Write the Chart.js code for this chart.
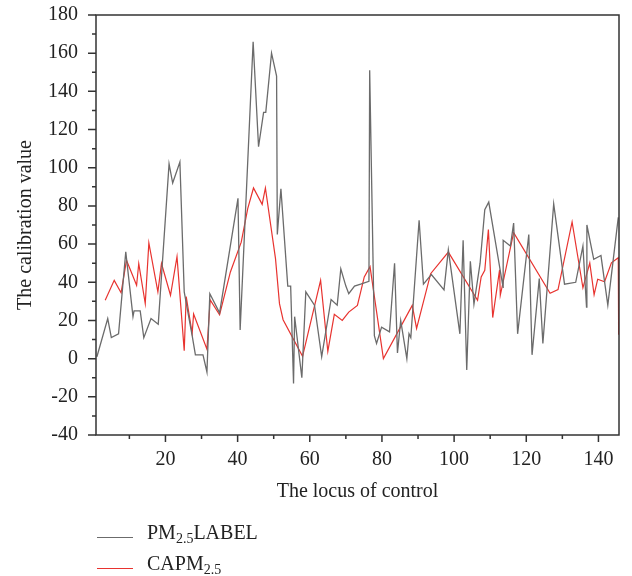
<!DOCTYPE html>
<html>
<head>
<meta charset="utf-8">
<script src="https://cdn.jsdelivr.net/npm/chart.js@4.4.0/dist/chart.umd.min.js"></script>
<style>
  body { margin: 0; background: #fff; }
  #wrap { position: relative; width: 632px; height: 576px; }
  #legend { position: absolute; left: 97px; top: 520px; font-family: "Liberation Serif", serif; font-size: 20px; color: #222; }
  #legend .row { position: relative; height: 31px; }
  #legend .swatch { position: absolute; left: 0; top: 17px; width: 36px; height: 0; border-top: 1.3px solid; }
  #legend .txt { position: absolute; left: 50px; top: 1px; white-space: nowrap; }
  #legend sub { font-size: 14px; vertical-align: -4px; line-height: 0; }
</style>
</head>
<body>
<div id="wrap">
  <canvas id="c" width="632" height="576"></canvas>
  <div id="legend">
    <div class="row"><span class="swatch" style="border-color:#6b6b6b"></span><span class="txt">PM<sub>2.5</sub>LABEL</span></div>
    <div class="row"><span class="swatch" style="border-color:#e8332f"></span><span class="txt">CAPM<sub>2.5</sub></span></div>
  </div>
</div>
<script>
// PM2.5 LABEL series (gray)
var labelX = [1, 4, 5, 7, 9, 11, 11.3, 13, 14, 16, 18, 21, 22, 24, 25.2, 27.4, 28.3, 30.4, 31.5, 32.3,
  35, 40.1, 40.7, 44.3, 45.8, 47.2, 47.8, 49.4, 50.8, 51, 52, 53.9, 54.7, 55.5, 55.8, 57.8, 58.9, 61.3, 63.3, 65.9,
  67.6, 68.6, 70, 70.8, 72.4, 74.1, 76.4, 76.6, 77.9, 78.5, 79.9, 82.1, 83.5, 84.3, 85.2, 86.9, 87.5, 88, 90.3, 91.5,
  93.7, 97.2, 98.4, 101.6, 102.5, 103.5, 104.5, 105.5, 107.2, 108.5, 109.6, 113.6, 113.6, 115.6, 116.5, 117.6, 120.7, 121.6, 123.6, 124.6,
  127.6, 130.6, 133.7, 135.7, 136.7, 136.8, 138.7, 140.7, 142.6, 145.5];
var labelY = [1, 21, 11, 13, 56, 22, 25, 25, 11, 21, 18, 102, 92, 103, 35, 12, 2, 2, -7, 34,
  24, 84, 15, 166, 111, 129, 129, 160, 148, 65, 89, 38, 38, -13, 22, -10, 35, 28, 1, 31,
  28, 47, 38, 34, 38, 39, 40.5, 151, 12, 8, 16.5, 14, 50, 3, 20, 0, 13, 11, 72.5, 39,
  44, 36, 57, 13, 62, -6, 51, 28.5, 50, 78, 82, 37, 62, 59, 71, 13, 65, 2, 42, 8,
  81, 39, 40, 59, 27, 70, 52, 54, 28, 74];

// CAPM2.5 series (red)
var capX = [3.3, 5.8, 7.7, 9.2, 12, 12.6, 14.4, 15.4, 17.9, 18.9, 21.4, 23.2, 25.2, 25.75, 27.4, 27.8, 31.5, 32.4, 35, 38,
  41, 42.8, 44.4, 46.8, 47.7, 50.5, 51.6, 52.6, 58, 63, 65, 66.8, 69, 70.8, 73.2, 75.1, 76.7, 80.4, 88.4, 89.6,
  93.5, 98.4, 106.5, 107.5, 108.5, 109.5, 110.7, 112.6, 112.8, 116.5, 126.6, 128.8, 132.7, 135.7, 137.6, 138.8, 139.8, 141.7, 143.6, 145.5,
  145.6];
var capY = [30.6, 41, 34.5, 51.5, 38.4, 49.8, 28.8, 60.6, 35, 49.8, 33.2, 53.4, 4.2, 32.5, 13.1, 23.4, 5, 30.8, 23, 45.4,
  61, 78.6, 89.4, 80.8, 89.4, 52.4, 28.8, 20.4, 1.2, 41, 3.8, 23.2, 20, 24.4, 27.9, 42.8, 48.2, 0, 27.9, 15.8,
  44.5, 55.8, 30.6, 42.8, 46.3, 67.6, 21.5, 46.5, 33.2, 66, 34.2, 36.2, 71.6, 37.1, 50.1, 33.5, 41.6, 40.3, 50.2, 52.9,
  12.5];

var xTicks = [20, 40, 60, 80, 100, 120, 140];
var xMinor = [10, 30, 50, 70, 90, 110, 130];
var yTicks = [-40, -20, 0, 20, 40, 60, 80, 100, 120, 140, 160, 180];
var yMinor = [-30, -10, 10, 30, 50, 70, 90, 110, 130, 150, 170];

function pairs(xs, ys) {
  return xs.map(function(x, i) { return { x: x, y: ys[i] }; });
}

var serif = '"Liberation Serif", "DejaVu Serif", serif';

// frame round the plot and outward tick marks
var framePlugin = {
  id: 'frame',
  afterDatasetsDraw: function(chart) {
    var ctx = chart.ctx, a = chart.chartArea;
    var xs = chart.scales.x, ys = chart.scales.y;
    ctx.save();
    ctx.strokeStyle = '#333';
    ctx.lineWidth = 1.5;
    ctx.strokeRect(a.left, a.top, a.right - a.left, a.bottom - a.top);
    ctx.beginPath();
    xTicks.forEach(function(v) { var p = xs.getPixelForValue(v); ctx.moveTo(p, a.bottom); ctx.lineTo(p, a.bottom + 7); });
    xMinor.forEach(function(v) { var p = xs.getPixelForValue(v); ctx.moveTo(p, a.bottom); ctx.lineTo(p, a.bottom + 4); });
    yTicks.forEach(function(v) { var p = ys.getPixelForValue(v); ctx.moveTo(a.left, p); ctx.lineTo(a.left - 8, p); });
    yMinor.forEach(function(v) { var p = ys.getPixelForValue(v); ctx.moveTo(a.left, p); ctx.lineTo(a.left - 4, p); });
    ctx.stroke();
    ctx.restore();
  }
};

new Chart(document.getElementById('c').getContext('2d'), {
  type: 'line',
  data: {
    datasets: [
      { label: 'PM2.5LABEL', data: pairs(labelX, labelY), borderColor: '#6b6b6b', borderWidth: 1.3, pointRadius: 0, tension: 0, fill: false },
      { label: 'CAPM2.5', data: pairs(capX, capY), borderColor: '#e8332f', borderWidth: 1.2, pointRadius: 0, tension: 0, fill: false }
    ]
  },
  options: {
    responsive: false,
    animation: false,
    layout: { padding: { left: 0, right: 13, top: 15, bottom: 66 } },
    plugins: { legend: { display: false }, tooltip: { enabled: false } },
    scales: {
      x: {
        type: 'linear', min: 0.75, max: 145.7,
        grid: { display: false, drawTicks: false },
        border: { display: false },
        afterBuildTicks: function(s) { s.ticks = xTicks.map(function(v) { return { value: v }; }); },
        afterFit: function(s) { s.height = 75; s.paddingLeft = 0; s.paddingRight = 0; },
        ticks: { padding: 13, color: '#222', font: { family: serif, size: 20 }, maxRotation: 0 },
        title: { display: true, text: 'The locus of control', color: '#222', font: { family: serif, size: 20 }, padding: { top: 0, bottom: 6 } }
      },
      y: {
        min: -40, max: 180,
        grid: { display: false, drawTicks: false },
        border: { display: false },
        afterBuildTicks: function(s) { s.ticks = yTicks.map(function(v) { return { value: v }; }); },
        afterFit: function(s) { s.width = 96; s.paddingTop = 0; s.paddingBottom = 0; },
        ticks: { padding: 18, color: '#222', font: { family: serif, size: 20 } },
        title: { display: true, text: 'The calibration value', color: '#222', font: { family: serif, size: 20 }, padding: { top: 14, bottom: 0 } }
      }
    }
  },
  plugins: [framePlugin]
});
</script>
</body>
</html>
